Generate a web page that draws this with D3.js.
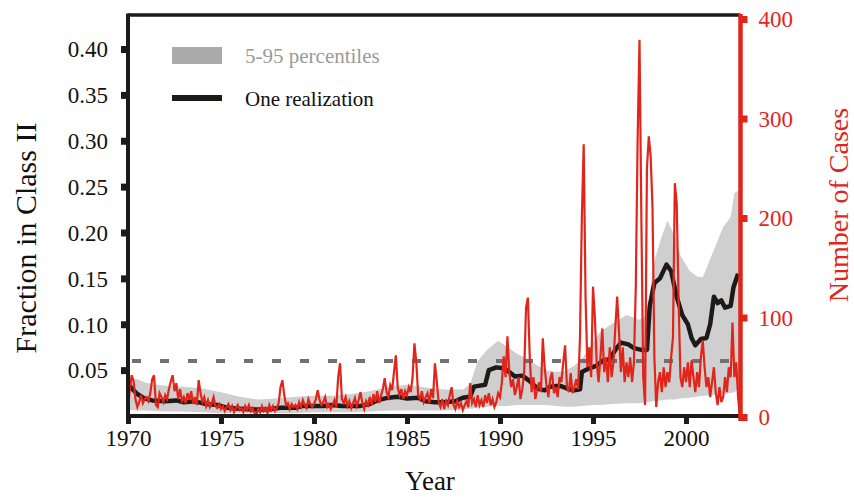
<!DOCTYPE html>
<html><head><meta charset="utf-8">
<script src="https://cdn.jsdelivr.net/npm/d3@7"></script>
<style>html,body{margin:0;padding:0;background:#fff;}svg{display:block;}</style>
</head><body><svg id="c" width="854" height="497"></svg>
<script>
// ---- data ----
const xTicks = [1970, 1975, 1980, 1985, 1990, 1995, 2000];
const leftTicks = [0.05, 0.10, 0.15, 0.20, 0.25, 0.30, 0.35, 0.40];
const rightTicks = [0, 100, 200, 300, 400];
const threshold = 0.06;
const legendLabels = ["5-95 percentiles", "One realization"];

// 5-95 percentile band: year, lower, upper
const bandYears = [1970.0,1970.5,1971,1972,1973,1974,1975,1976,1977,1978,1979,1980,1981,1982,1983,1984,1985,1986,1987,1988,1988.4,1988.8,1989.3,1989.9,1990.4,1990.9,1991.5,1992,1992.5,1993,1993.5,1994,1994.4,1995,1995.4,1996,1996.8,1997.5,1997.9,1998.25,1998.6,1999,1999.4,1999.7,2000.2,2000.6,2000.9,2001.5,2002,2002.4,2002.6,2002.75,2002.92];
const bandLow  = [0.007,0.006,0.006,0.005,0.005,0.004,0.003,0.003,0.003,0.003,0.003,0.004,0.004,0.004,0.005,0.006,0.006,0.006,0.006,0.007,0.008,0.009,0.010,0.011,0.011,0.012,0.012,0.012,0.012,0.011,0.010,0.010,0.011,0.012,0.012,0.013,0.014,0.014,0.015,0.016,0.017,0.018,0.018,0.019,0.020,0.021,0.022,0.023,0.024,0.025,0.026,0.028,0.030];
const bandHigh = [0.042,0.040,0.036,0.033,0.032,0.030,0.026,0.021,0.018,0.019,0.021,0.022,0.022,0.024,0.027,0.032,0.034,0.031,0.029,0.029,0.035,0.060,0.072,0.082,0.075,0.068,0.062,0.055,0.050,0.048,0.049,0.055,0.062,0.080,0.092,0.100,0.110,0.105,0.110,0.165,0.190,0.213,0.196,0.175,0.158,0.152,0.151,0.181,0.206,0.217,0.243,0.245,0.245];

// one realization
const realYears = [1970.0,1970.2,1970.5,1970.9,1971.3,1972.0,1972.6,1973.0,1973.6,1974.2,1974.8,1975.3,1976.0,1976.8,1977.5,1978.2,1979.0,1979.4,1980.5,1981.0,1981.5,1982.5,1983.0,1983.4,1984.0,1984.5,1985.0,1985.6,1986.0,1986.5,1987.0,1987.6,1988.0,1988.4,1988.6,1989.2,1989.4,1989.8,1990.2,1990.5,1990.8,1991.2,1991.6,1992.0,1992.4,1992.7,1993.2,1993.6,1994.0,1994.3,1994.4,1994.8,1995.2,1995.5,1995.9,1996.2,1996.5,1996.9,1997.2,1997.6,1997.9,1998.05,1998.3,1998.6,1998.95,1999.2,1999.5,1999.8,2000.1,2000.3,2000.5,2000.8,2001.1,2001.3,2001.5,2001.7,2001.9,2002.1,2002.4,2002.55,2002.8];
const realValues = [0.035,0.030,0.024,0.019,0.017,0.016,0.017,0.015,0.016,0.013,0.012,0.009,0.008,0.007,0.007,0.009,0.009,0.011,0.011,0.012,0.011,0.011,0.013,0.017,0.020,0.021,0.019,0.020,0.016,0.015,0.015,0.016,0.020,0.021,0.032,0.034,0.050,0.053,0.052,0.048,0.043,0.044,0.038,0.030,0.028,0.032,0.033,0.030,0.028,0.029,0.048,0.052,0.055,0.060,0.062,0.072,0.080,0.078,0.074,0.072,0.072,0.120,0.145,0.150,0.165,0.158,0.130,0.110,0.100,0.085,0.077,0.084,0.085,0.100,0.130,0.123,0.126,0.118,0.120,0.140,0.155];

// number of cases, every 0.1 year from 1970.0
const casesStart = 1970.0, casesStep = 0.1;
const cases = [
 12,28,42,36,18,10,15,22,14,18,
 20,16,24,38,42,12,10,24,20,15,
 22,18,28,36,42,26,34,18,28,16,
 20,14,24,17,26,13,20,12,37,24,
 15,20,11,17,10,14,20,11,9,13,
 8,11,6,10,13,7,11,5,9,12,
 7,9,5,11,7,12,6,9,4,2,
 8,5,11,6,9,4,12,7,11,6,
 9,14,30,37,22,12,14,8,13,10,
 12,8,15,10,17,12,9,18,13,10,
 13,18,27,17,12,15,20,10,13,8,
 12,17,10,40,54,18,14,20,11,16,
 9,14,19,11,17,25,14,8,16,12,
 20,12,23,15,26,14,21,28,39,25,
 20,32,27,45,62,30,22,28,18,26,
 22,30,25,40,74,55,22,18,26,15,
 20,24,14,28,19,54,36,15,10,18,
 8,16,12,22,30,12,8,16,10,14,
 7,12,16,10,34,14,18,10,22,12,
 17,10,22,14,24,12,18,10,15,24,
 20,35,61,40,81,45,30,38,22,30,
 40,18,28,45,110,120,60,25,40,18,
 28,35,25,79,50,32,20,38,45,24,
 30,20,40,35,55,72,30,25,44,24,
 30,38,28,80,200,274,120,50,70,40,
 131,100,55,35,60,89,45,60,35,70,
 40,55,90,121,85,45,70,35,55,40,
 60,35,55,130,280,379,200,40,12,250,
 282,262,210,60,10,35,45,25,50,30,
 45,35,60,80,235,215,120,40,30,50,
 35,55,30,57,40,25,45,30,60,77,
 50,30,40,20,35,50,25,12,30,15,
 20,40,25,50,40,95,40,55,20,0
];

// ---- layout ----
const svg = d3.select("#c");
const X0 = 128, X1 = 740.5, YT = 15, YB = 416;
const x = d3.scaleLinear().domain([1970, 2000]).range([X0, 686]);
const yL = d3.scaleLinear().domain([0, 0.40]).range([416, 49]);
const yR = d3.scaleLinear().domain([0, 400]).range([417, 19]);
const RED = "#e1251b", BLACK = "#1e1a1a", FONT = "'Liberation Serif','Times New Roman',serif";

// band
const bandData = bandYears.map((yr, i) => ({yr, lo: bandLow[i], hi: bandHigh[i]}));
svg.append("path").datum(bandData)
  .attr("d", d3.area().x(d => x(d.yr)).y0(d => yL(d.lo)).y1(d => yL(d.hi)))
  .attr("fill", "#cfcfcf");

// threshold dashed line
svg.append("line").attr("x1", X0 + 4).attr("x2", 733)
  .attr("y1", yL(threshold)).attr("y2", yL(threshold))
  .attr("stroke", "#717171").attr("stroke-width", 4).attr("stroke-dasharray", "9,19");

// realization
const realData = realYears.map((yr, i) => ({yr, v: realValues[i]}));
svg.append("path").datum(realData)
  .attr("d", d3.line().x(d => x(d.yr)).y(d => yL(d.v)))
  .attr("fill", "none").attr("stroke", BLACK).attr("stroke-width", 4.5).attr("stroke-linejoin", "round");

// cases
const caseData = cases.map((v, i) => ({yr: casesStart + i * casesStep, v}));
svg.append("path").datum(caseData)
  .attr("d", d3.line().x(d => x(d.yr)).y(d => yR(d.v)))
  .attr("fill", "none").attr("stroke", RED).attr("stroke-width", 2.2).attr("stroke-linejoin", "miter");

// frame: top and bottom
svg.append("line").attr("x1", X0).attr("x2", X1).attr("y1", YT).attr("y2", YT)
  .attr("stroke", BLACK).attr("stroke-width", 3.5);
svg.append("line").attr("x1", X0).attr("x2", X1).attr("y1", YB).attr("y2", YB)
  .attr("stroke", BLACK).attr("stroke-width", 4);

// left axis
const gL = svg.append("g").attr("transform", `translate(${X0},0)`)
  .call(d3.axisLeft(yL).tickValues(leftTicks).tickFormat(d3.format(".2f")).tickSize(0).tickPadding(20));
gL.select(".domain").remove();
gL.attr("font-family", null);
gL.selectAll("text").style("font-family", FONT).attr("font-size", 23).attr("fill", "#111").attr("dy", "0.34em");
gL.selectAll(".tick").append("rect").attr("x", -7).attr("y", -3.5).attr("width", 6).attr("height", 7).attr("fill", BLACK);
svg.append("line").attr("x1", X0).attr("x2", X0).attr("y1", YT - 1.5).attr("y2", YB + 6)
  .attr("stroke", BLACK).attr("stroke-width", 4);

// bottom axis
const gB = svg.append("g").attr("transform", `translate(0,${YB})`)
  .call(d3.axisBottom(x).tickValues(xTicks).tickFormat(d3.format("d")).tickSize(0).tickPadding(14));
gB.select(".domain").remove();
gB.attr("font-family", null);
gB.selectAll("text").style("font-family", FONT).attr("font-size", 23).attr("fill", "#111");
gB.selectAll(".tick").append("rect").attr("x", -2.5).attr("y", 1).attr("width", 5).attr("height", 7).attr("fill", BLACK);

// right axis
const gR = svg.append("g").attr("transform", `translate(${X1},0)`)
  .call(d3.axisRight(yR).tickValues(rightTicks).tickSize(0).tickPadding(18));
gR.select(".domain").remove();
gR.attr("font-family", null);
gR.selectAll("text").style("font-family", FONT).attr("font-size", 23).attr("fill", RED).attr("dy", "0.34em");
gR.selectAll(".tick").append("rect").attr("x", 1).attr("y", -3.5).attr("width", 6).attr("height", 7).attr("fill", RED);
svg.append("line").attr("x1", X1).attr("x2", X1).attr("y1", 14).attr("y2", 421)
  .attr("stroke", RED).attr("stroke-width", 4.5);

// titles
svg.append("text").attr("transform", "translate(36,238) rotate(-90)").attr("text-anchor", "middle")
  .style("font-family", FONT).attr("font-size", 30).attr("fill", "#111").text("Fraction in Class II");
svg.append("text").attr("transform", "translate(848,205) rotate(-90)").attr("text-anchor", "middle")
  .style("font-family", FONT).attr("font-size", 28).attr("fill", RED).text("Number of Cases");
svg.append("text").attr("x", 430).attr("y", 490).attr("text-anchor", "middle")
  .style("font-family", FONT).attr("font-size", 27).attr("fill", "#111").text("Year");

// legend
svg.append("rect").attr("x", 172).attr("y", 47).attr("width", 50).attr("height", 17).attr("fill", "#ababab");
svg.append("text").attr("x", 245).attr("y", 63).style("font-family", FONT).attr("font-size", 21)
  .attr("fill", "#9a9a9a").text(legendLabels[0]);
svg.append("line").attr("x1", 172).attr("x2", 222).attr("y1", 98).attr("y2", 98)
  .attr("stroke", BLACK).attr("stroke-width", 6);
svg.append("text").attr("x", 245).attr("y", 106).style("font-family", FONT).attr("font-size", 21)
  .attr("fill", "#111").text(legendLabels[1]);
</script></body></html>
